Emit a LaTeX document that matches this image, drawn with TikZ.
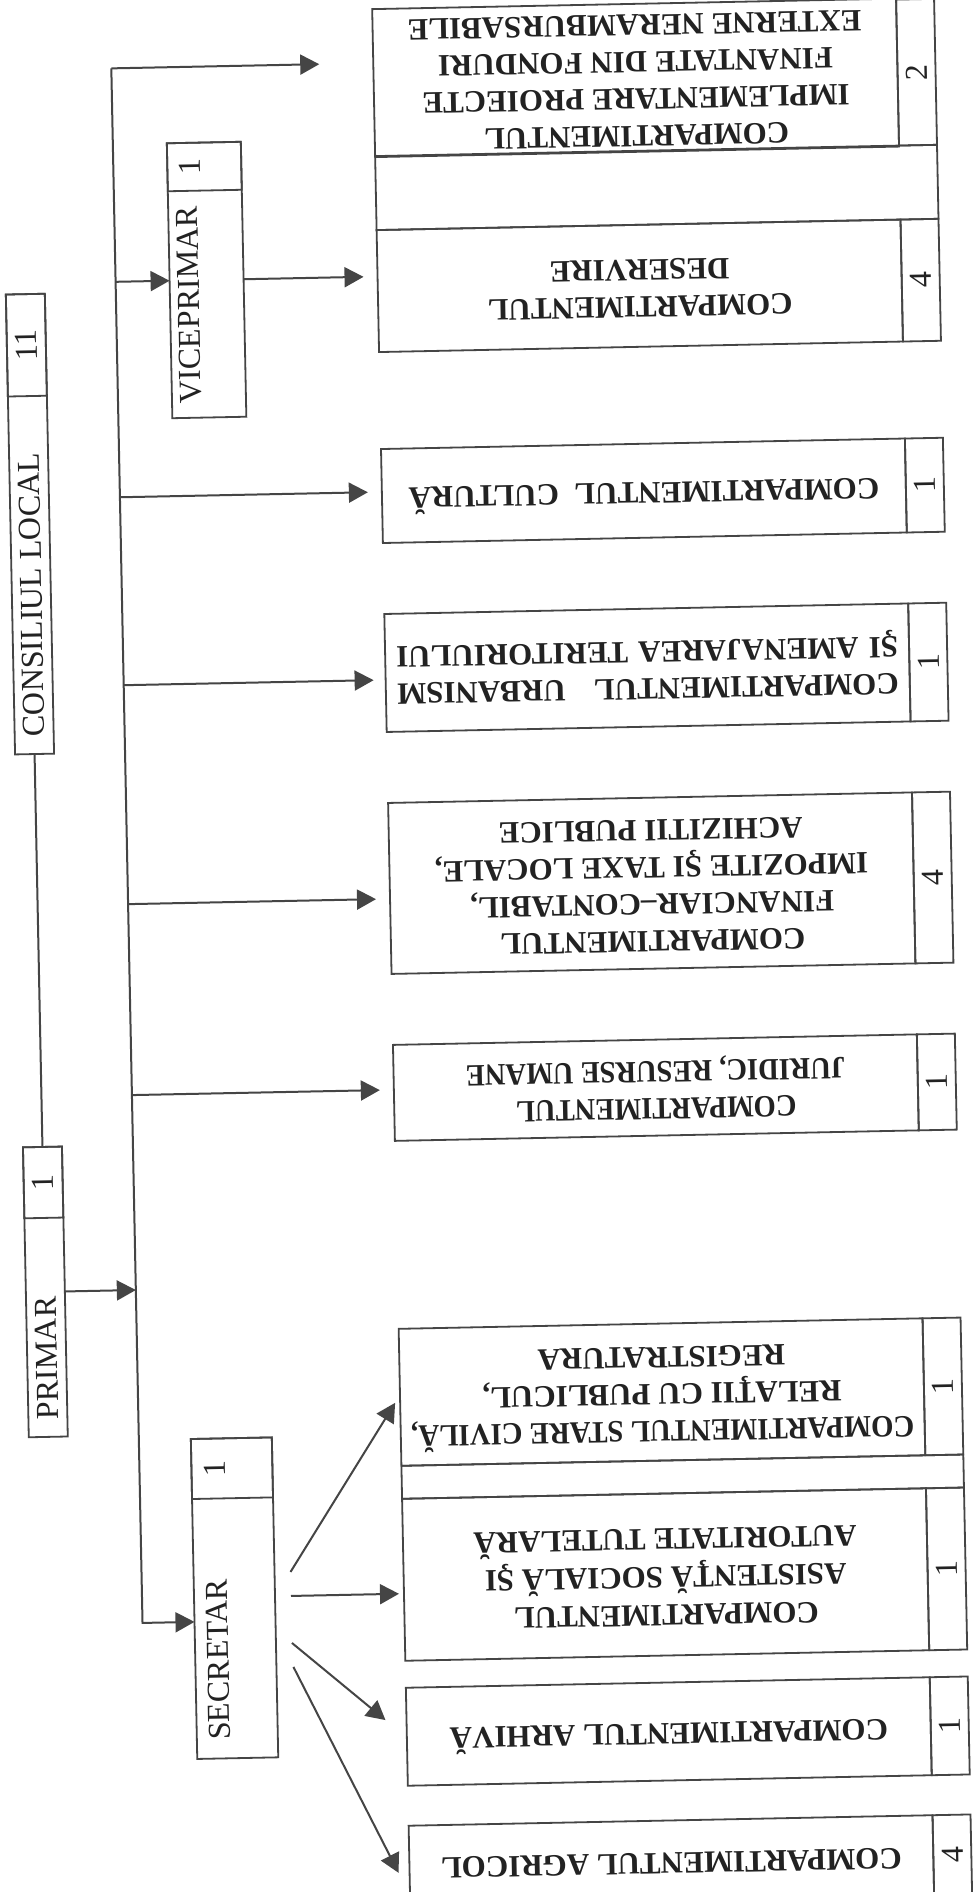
\documentclass[tikz,border=0pt]{standalone}
\usepackage{fontspec}
\setmainfont{Liberation Serif}
\usetikzlibrary{arrows.meta,calc}
\definecolor{linec}{HTML}{454545}
\definecolor{txtc}{HTML}{222222}
\newcommand\comp[5]{%
  \node[box,ctext,minimum width=262pt,minimum height=#3] (#1) at (653,#2)
    {\rotatebox{180}{\begin{tabular}{@{}c@{}}#4\end{tabular}}};
  \node[box,numf,minimum width=19pt,minimum height=#3] (#1n) at (934,#2)
    {\rotatebox{90}{#5}};
}
\begin{document}
\begin{tikzpicture}[x=0.5pt,y=-0.5pt,
  box/.style={draw=linec,line width=0.9pt,inner sep=0pt,outer sep=0pt},
  ctext/.style={font=\bfseries\fontsize{15.5}{18.5}\selectfont,text=txtc},
  numf/.style={font=\fontsize{16}{18}\selectfont,text=txtc},
  ltext/.style={font=\fontsize{16}{18}\selectfont,text=txtc,inner sep=0pt},
  numt/.style={font=\fontsize{16}{18}\selectfont,text=txtc,inner sep=0pt,rotate=90},
  link/.style={draw=linec,line width=1pt},
  arr/.style={link,-{Triangle[length=9.5pt,width=10pt]}},
]
\useasboundingbox (0,0) rectangle (973,1892);
\fill[white] (0,0) rectangle (973,1892);
\clip (0,0) rectangle (973,1892);
\begin{scope}[rotate around={1.15:(486,946)},transform shape]
% ---------- left column ----------
\node[box,minimum width=19.5pt,minimum height=230pt] (cons) at (38.5,515) {};
\node[box,minimum width=19.5pt,minimum height=51pt] (consN) at (38.5,336) {};
\node[ltext,rotate=90,anchor=west] (consT) at (38.5,728) {CONSILIUL LOCAL};
\node[numt] (consNT) at (38.5,336) {11};

\node[box,minimum width=19.5pt,minimum height=145pt] (prim) at (38.5,1283) {};
\node[box,minimum width=19.5pt,minimum height=35.5pt] (primN) at (38.5,1173.5) {};
\node[ltext,rotate=90,anchor=west] (primT) at (38.5,1411) {PRIMAR};
\node[numt] (primNT) at (38.5,1173.5) {1};

\node[box,minimum width=37pt,minimum height=137.5pt] (vp) at (220,274.5) {};
\node[box,minimum width=37pt,minimum height=24pt] (vpN) at (220,161) {};
\node[ltext,rotate=90,anchor=west] (vpT) at (202,398) {VICEPRIMAR};
\node[numt] (vpNT) at (205,161) {1};

\node[box,minimum width=40.5pt,minimum height=160pt] (sec) at (221.5,1593) {};
\node[box,minimum width=40.5pt,minimum height=30pt] (secN) at (221.5,1463) {};
\node[ltext,rotate=90,anchor=west] (secT) at (204,1735) {SECRETAR};
\node[numt] (secNT) at (204,1463) {1};

% ---------- compartments ----------
\comp{impl}{81}{73pt}{COMPARTIMENTUL\\IMPLEMENTARE PROIECTE\\FINANTATE DIN FONDURI\\EXTERNE NERAMBURSABILE}{2}
\node[box,minimum width=281pt,minimum height=37pt] (gap1) at (672,191) {};
\comp{des}{289}{61pt}{COMPARTIMENTUL\\DESERVIRE}{4}
\comp{cult}{494}{47pt}{COMPARTIMENTUL\ \ CULTURĂ}{1}
\comp{urb}{671}{59pt}{\makebox[251pt][s]{COMPARTIMENTUL\ \ URBANISM}\\\makebox[251pt][s]{ŞI AMENAJAREA TERITORIULUI}}{1}
\comp{fin}{886.5}{85.5pt}{COMPARTIMENTUL\\FINANCIAR–CONTABIL,\\IMPOZITE ŞI TAXE LOCALE,\\ACHIZITII PUBLICE}{4}
\comp{jur}{1091}{48pt}{\scalebox{0.92}[1]{COMPARTIMENTUL}\\\scalebox{0.92}[1]{JURIDIC, RESURSE UMANE}}{1}
\comp{stare}{1395.5}{68.5pt}{\scalebox{0.93}[1]{COMPARTIMENTUL STARE CIVILĂ,}\\RELAŢII CU PUBLICUL,\\REGISTRATURA}{1}
\node[box,minimum width=281pt,minimum height=16.5pt] (gap2) at (672,1480.5) {};
\comp{asist}{1578}{81pt}{COMPARTIMENTUL\\ASISTENŢĂ SOCIALĂ ŞI\\AUTORITATE TUTELARĂ}{1}
\comp{arh}{1735}{49pt}{COMPARTIMENTUL ARHIVĂ}{1}
\comp{agr}{1864}{40pt}{COMPARTIMENTUL AGRICOL}{4}

% ---------- connectors ----------
\coordinate (ttop) at (129,61);
\coordinate (tbot) at (129,1616);
\draw[link] (cons.south) -- (prim.north);
\draw[arr] (ttop) -- (tbot) -- (tbot -| sec.west);
\draw[arr] (prim.east) -- (prim.east -| ttop);
\draw[arr,shorten >=27pt] (ttop) -- (ttop -| impl.west);
\draw[arr] (ttop |- vp.west) -- (vp.west);
\draw[arr,shorten >=7pt] (vp.east) -- (vp.east -| des.west);
\coordinate (b3) at (129,490);
\coordinate (b4) at (129,678);
\coordinate (b5) at (129,897);
\coordinate (b6) at (129,1088);
\draw[arr,shorten >=7pt] (b3) -- (b3 -| cult.west);
\draw[arr,shorten >=6pt] (b4) -- (b4 -| urb.west);
\draw[arr,shorten >=7pt] (b5) -- (b5 -| fin.west);
\draw[arr,shorten >=7pt] (b6) -- (b6 -| jur.west);
\coordinate (f1s) at (278,1568); \coordinate (f1e) at (386,1401);
\coordinate (f2s) at (278,1592); \coordinate (f2e) at (386,1592);
\coordinate (f3s) at (278,1639); \coordinate (f3e) at (370,1718);
\coordinate (f4s) at (279,1663); \coordinate (f4e) at (380,1871);
\draw[arr] (f1s) -- (f1e);
\draw[arr] (f2s) -- (f2e);
\draw[arr] (f3s) -- (f3e);
\draw[arr] (f4s) -- (f4e);
\end{scope}
\end{tikzpicture}
\end{document}
